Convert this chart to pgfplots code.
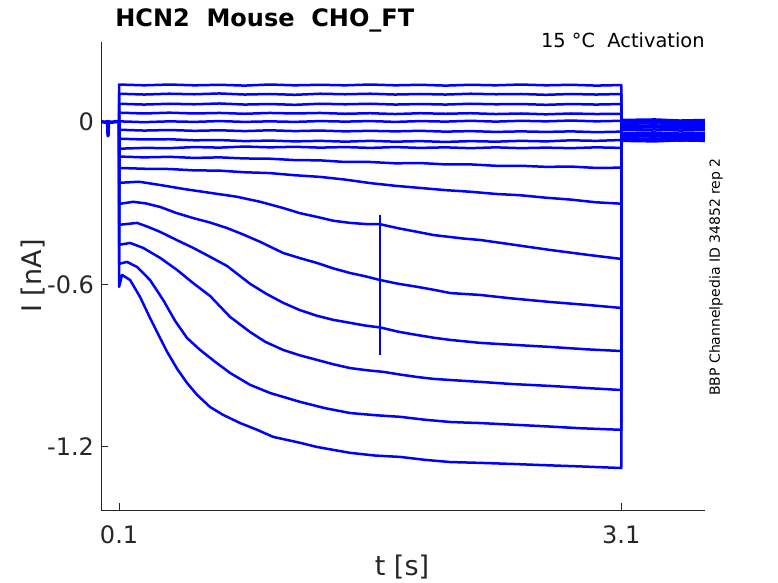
\documentclass[border=0pt]{standalone}
\usepackage{fontspec}
\setmainfont{DejaVu Sans}
\usepackage{pgfplots}
\pgfplotsset{compat=1.18}
\definecolor{axgray}{rgb}{0.15,0.15,0.15}
\definecolor{mblue}{rgb}{0,0,1}
\tikzset{tr/.style={mblue, solid, line width=1.25pt, line join=round}}
\begin{document}
\begin{tikzpicture}
\begin{axis}[
  at={(50.5pt,36.5pt)}, anchor=south west,
  width=302pt, height=234pt, scale only axis,
  xmin=-0.008, xmax=3.6, ymin=-1.433, ymax=0.295,
  axis x line=bottom, axis y line=left,
  axis line style={-, axgray, line width=0.4pt},
  tick align=inside, major tick length=3.5pt,
  tick style={axgray, line width=0.4pt},
  xtick={0.1,3.1}, xticklabels={0.1,3.1},
  ytick={-1.2,-0.6,0}, yticklabels={-1.2,-0.6,{0\hspace{12.5pt}}},
  tick label style={font=\fontsize{12}{14}\selectfont, text=axgray},
  xticklabel style={yshift=-4.5pt},
  minor tick num=0,
  clip=true,
]
% holding before step
\addplot[tr, line width=1.7pt] coordinates {(-0.008,0.001)(0.015,-0.001)(0.030,0.001)(0.032,-0.02)(0.034,-0.052)(0.036,-0.02)(0.038,0)(0.06,-0.001)(0.08,0.001)(0.1,0)};
% trace 1
\addplot[tr] coordinates {(0.1,0)(0.1,0.138)(0.25,0.135)(0.4,0.138)(0.55,0.135)(0.7,0.137)(0.85,0.134)(1.0,0.138)(1.15,0.135)(1.3,0.137)(1.45,0.135)(1.6,0.138)(1.75,0.135)(1.9,0.137)(2.05,0.134)(2.2,0.137)(2.35,0.135)(2.5,0.138)(2.65,0.135)(2.8,0.137)(2.95,0.134)(3.1,0.136)(3.1,0.007)(3.3,0.009)(3.45,0.005)(3.6,0.007)};
% trace 2
\addplot[tr] coordinates {(0.1,0)(0.1,0.104)(0.25,0.101)(0.4,0.104)(0.55,0.102)(0.7,0.105)(0.85,0.101)(1.0,0.103)(1.15,0.100)(1.3,0.104)(1.45,0.102)(1.6,0.104)(1.75,0.101)(1.9,0.103)(2.05,0.101)(2.2,0.104)(2.35,0.102)(2.5,0.103)(2.65,0.100)(2.8,0.103)(2.95,0.101)(3.1,0.103)(3.1,0.004)(3.3,0.006)(3.45,0.002)(3.6,0.004)};
% trace 3
\addplot[tr] coordinates {(0.1,0)(0.1,0.067)(0.25,0.064)(0.4,0.067)(0.55,0.065)(0.7,0.068)(0.85,0.064)(1.0,0.066)(1.15,0.063)(1.3,0.067)(1.45,0.065)(1.6,0.067)(1.75,0.064)(1.9,0.066)(2.05,0.064)(2.2,0.067)(2.35,0.065)(2.5,0.066)(2.65,0.063)(2.8,0.066)(2.95,0.064)(3.1,0.066)(3.1,0.003)(3.3,0.005)(3.45,0.001)(3.6,0.003)};
% trace 4
\addplot[tr] coordinates {(0.1,0)(0.1,0.034)(0.25,0.031)(0.4,0.034)(0.55,0.031)(0.7,0.033)(0.85,0.030)(1.0,0.033)(1.15,0.031)(1.3,0.033)(1.45,0.030)(1.6,0.032)(1.75,0.029)(1.9,0.032)(2.05,0.030)(2.2,0.032)(2.35,0.029)(2.5,0.031)(2.65,0.028)(2.8,0.031)(2.95,0.029)(3.1,0.030)(3.1,0.000)(3.3,0.002)(3.45,-0.002)(3.6,0.000)};
% trace 5
\addplot[tr] coordinates {(0.1,0)(0.1,0.002)(0.25,-0.001)(0.4,0.002)(0.55,0.000)(0.7,0.003)(0.85,0.000)(1.0,0.002)(1.15,0.000)(1.3,0.003)(1.45,0.001)(1.6,0.003)(1.75,0.000)(1.9,0.003)(2.05,0.001)(2.2,0.004)(2.35,0.001)(2.5,0.004)(2.65,0.002)(2.8,0.005)(2.95,0.002)(3.1,0.004)(3.1,-0.001)(3.3,0.001)(3.45,-0.003)(3.6,-0.001)};
% trace 6
\addplot[tr] coordinates {(0.1,0)(0.1,-0.029)(0.25,-0.032)(0.4,-0.030)(0.55,-0.033)(0.7,-0.031)(0.85,-0.034)(1.0,-0.031)(1.15,-0.034)(1.3,-0.032)(1.45,-0.035)(1.6,-0.033)(1.75,-0.035)(1.9,-0.033)(2.05,-0.036)(2.2,-0.034)(2.35,-0.037)(2.5,-0.035)(2.65,-0.037)(2.8,-0.035)(2.95,-0.038)(3.1,-0.036)(3.1,-0.004)(3.3,-0.002)(3.45,-0.006)(3.6,-0.004)};
% trace 7
\addplot[tr] coordinates {(0.1,0)(0.1,-0.062)(0.25,-0.065)(0.4,-0.064)(0.55,-0.068)(0.7,-0.067)(0.85,-0.071)(1.0,-0.069)(1.15,-0.072)(1.3,-0.070)(1.45,-0.073)(1.6,-0.070)(1.75,-0.073)(1.9,-0.071)(2.05,-0.074)(2.2,-0.071)(2.35,-0.073)(2.5,-0.070)(2.65,-0.072)(2.8,-0.068)(2.95,-0.070)(3.1,-0.067)(3.1,-0.007)(3.3,-0.005)(3.45,-0.009)(3.6,-0.007)};
% trace 8
\addplot[tr] coordinates {(0.1,0)(0.1,-0.099)(0.25,-0.096)(0.4,-0.097)(0.55,-0.093)(0.7,-0.095)(0.85,-0.091)(1.0,-0.094)(1.15,-0.092)(1.3,-0.095)(1.45,-0.093)(1.6,-0.096)(1.75,-0.093)(1.9,-0.096)(2.05,-0.094)(2.2,-0.097)(2.35,-0.094)(2.5,-0.097)(2.65,-0.095)(2.8,-0.097)(2.95,-0.094)(3.1,-0.096)(3.1,-0.015)(3.3,-0.013)(3.45,-0.017)(3.6,-0.015)};
% trace 9
\addplot[tr] coordinates {(0.1,0)(0.1,-0.128)(0.25,-0.131)(0.4,-0.129)(0.55,-0.133)(0.7,-0.131)(0.85,-0.135)(1.0,-0.136)(1.15,-0.141)(1.3,-0.142)(1.45,-0.148)(1.6,-0.148)(1.75,-0.153)(1.9,-0.152)(2.05,-0.157)(2.2,-0.157)(2.35,-0.162)(2.5,-0.162)(2.65,-0.166)(2.8,-0.165)(2.95,-0.170)(3.1,-0.169)(3.1,-0.022)(3.3,-0.020)(3.45,-0.024)(3.6,-0.022)};
% trace 10
\addplot[tr] coordinates {(0.1,0)(0.1,-0.170)(0.25,-0.173)(0.4,-0.174)(0.55,-0.179)(0.7,-0.180)(0.85,-0.186)(1.0,-0.189)(1.15,-0.197)(1.3,-0.203)(1.45,-0.213)(1.6,-0.226)(1.75,-0.236)(1.9,-0.244)(2.05,-0.252)(2.2,-0.258)(2.35,-0.266)(2.5,-0.271)(2.65,-0.280)(2.8,-0.287)(2.95,-0.297)(3.1,-0.302)(3.1,-0.030)(3.3,-0.028)(3.45,-0.032)(3.6,-0.030)};
% trace 11
\addplot[tr] coordinates {(0.1,0)(0.1,-0.225)(0.22,-0.221)(0.345,-0.233)(0.5,-0.249)(0.644,-0.262)(0.8,-0.276)(0.943,-0.295)(1.08,-0.318)(1.18,-0.337)(1.283,-0.351)(1.38,-0.365)(1.48,-0.373)(1.57,-0.377)(1.66,-0.378)(1.77,-0.393)(1.881,-0.406)(1.98,-0.418)(2.078,-0.425)(2.16,-0.431)(2.257,-0.436)(2.45,-0.453)(2.676,-0.473)(2.9,-0.491)(3.1,-0.506)(3.1,-0.041)(3.3,-0.039)(3.45,-0.043)(3.6,-0.041)};
% trace 12
\addplot[tr] coordinates {(0.1,0)(0.1,-0.303)(0.184,-0.295)(0.26,-0.301)(0.345,-0.314)(0.44,-0.336)(0.542,-0.355)(0.64,-0.371)(0.745,-0.392)(0.85,-0.418)(0.943,-0.443)(1.08,-0.484)(1.18,-0.503)(1.283,-0.521)(1.38,-0.541)(1.48,-0.558)(1.57,-0.570)(1.66,-0.584)(1.77,-0.598)(1.881,-0.609)(1.98,-0.620)(2.078,-0.632)(2.257,-0.639)(2.45,-0.652)(2.676,-0.665)(2.9,-0.676)(3.1,-0.687)(3.1,-0.048)(3.3,-0.046)(3.45,-0.050)(3.6,-0.048)};
% trace 13
\addplot[tr] coordinates {(0.1,0)(0.1,-0.380)(0.208,-0.373)(0.27,-0.387)(0.345,-0.406)(0.44,-0.435)(0.542,-0.465)(0.64,-0.497)(0.745,-0.532)(0.883,-0.598)(0.98,-0.635)(1.08,-0.668)(1.18,-0.695)(1.283,-0.716)(1.38,-0.731)(1.48,-0.742)(1.57,-0.752)(1.66,-0.759)(1.77,-0.775)(1.881,-0.787)(1.98,-0.797)(2.078,-0.805)(2.257,-0.816)(2.45,-0.823)(2.676,-0.831)(2.9,-0.840)(3.1,-0.846)(3.1,-0.055)(3.3,-0.053)(3.45,-0.057)(3.6,-0.055)};
% trace 14
\addplot[tr] coordinates {(0.1,0)(0.1,-0.454)(0.166,-0.447)(0.243,-0.465)(0.345,-0.502)(0.447,-0.547)(0.542,-0.595)(0.644,-0.643)(0.763,-0.720)(0.883,-0.776)(0.973,-0.812)(1.08,-0.842)(1.18,-0.862)(1.283,-0.879)(1.38,-0.895)(1.48,-0.909)(1.58,-0.917)(1.678,-0.923)(1.78,-0.933)(1.881,-0.942)(1.98,-0.949)(2.078,-0.953)(2.257,-0.960)(2.45,-0.968)(2.676,-0.975)(2.9,-0.983)(3.1,-0.990)(3.1,-0.063)(3.3,-0.061)(3.45,-0.065)(3.6,-0.063)};
% trace 15
\addplot[tr] coordinates {(0.1,0)(0.1,-0.524)(0.148,-0.517)(0.208,-0.536)(0.285,-0.584)(0.363,-0.657)(0.435,-0.735)(0.506,-0.798)(0.584,-0.842)(0.674,-0.886)(0.763,-0.927)(0.883,-0.971)(1.002,-1.001)(1.182,-1.034)(1.33,-1.057)(1.48,-1.075)(1.63,-1.083)(1.779,-1.089)(1.93,-1.100)(2.078,-1.108)(2.16,-1.110)(2.257,-1.112)(2.45,-1.118)(2.616,-1.123)(2.85,-1.131)(3.1,-1.137)(3.1,-0.067)(3.3,-0.065)(3.45,-0.069)(3.6,-0.067)};
% trace 16
\addplot[tr] coordinates {(0.1,0)(0.1,-0.609)(0.118,-0.565)(0.166,-0.584)(0.225,-0.646)(0.285,-0.724)(0.345,-0.798)(0.387,-0.849)(0.447,-0.912)(0.506,-0.964)(0.566,-1.008)(0.644,-1.053)(0.722,-1.082)(0.823,-1.112)(0.925,-1.137)(1.02,-1.163)(1.182,-1.185)(1.28,-1.200)(1.379,-1.211)(1.48,-1.222)(1.63,-1.232)(1.779,-1.237)(1.93,-1.248)(2.078,-1.256)(2.257,-1.259)(2.45,-1.263)(2.616,-1.267)(2.85,-1.272)(3.1,-1.278)(3.1,-0.070)(3.3,-0.072)(3.45,-0.068)(3.6,-0.070)};
% marker line
\addplot[tr, line width=0.9pt] coordinates {(1.66,-0.343)(1.66,-0.860)};
\end{axis}
\node[anchor=base west, font=\fontsize{12}{14}\selectfont\bfseries, inner sep=0] at (57.5pt,278pt) {HCN2\ \ Mouse\ \ CHO\_FT};
\node[anchor=base east, font=\fontsize{9.7}{11}\selectfont, inner sep=0] at (352.5pt,267.5pt) {15 °C\ \ Activation};
\node[rotate=90, font=\fontsize{7}{8}\selectfont, inner sep=0] at (358pt,153pt) {BBP Channelpedia ID 34852 rep 2};
\node[font=\fontsize{13.5}{15}\selectfont, text=axgray, inner sep=0] at (201pt,7.75pt) {t [s]};
\node[rotate=90, font=\fontsize{13.5}{15}\selectfont, text=axgray, inner sep=0] at (16.5pt,153.5pt) {I [nA]};
\pgfresetboundingbox
\path[use as bounding box] (0,0) rectangle (389pt,291.5pt);
\end{tikzpicture}
\end{document}
